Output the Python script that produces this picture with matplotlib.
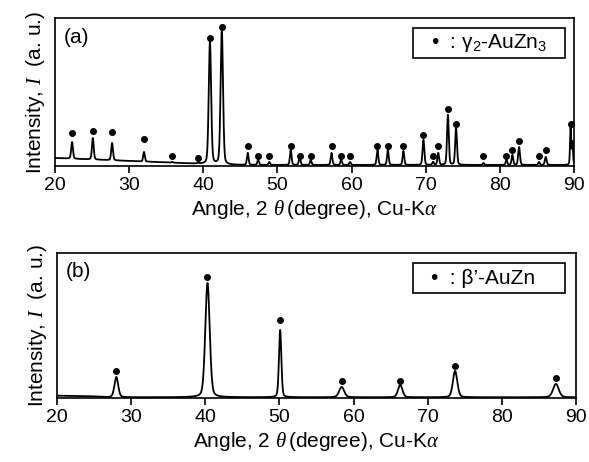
import numpy as np
import matplotlib
matplotlib.use("Agg")
import matplotlib.pyplot as plt
from matplotlib.patches import Rectangle

plt.rcParams['font.family'] = ['Liberation Sans', 'DejaVu Sans']
plt.rcParams['mathtext.fontset'] = 'custom'
plt.rcParams['mathtext.it'] = 'Liberation Serif:italic'
plt.rcParams['mathtext.rm'] = 'Liberation Sans'

# ---- panel (a): gamma2-AuZn3 peaks (2theta, peak top, marker height) ----
a_pos = [22.3, 25.1, 27.7, 32.0, 35.8, 39.3, 40.9, 42.5, 46.0, 47.4, 48.9,
         51.8, 53.0, 54.5, 57.3, 58.6, 59.8, 63.5, 64.9, 67.0, 69.7, 71.0,
         71.7, 73.0, 74.1, 77.8, 80.9, 81.7, 82.6, 85.3, 86.2, 89.55, 89.8]
a_top = [0.162, 0.189, 0.155, 0.095, 0.027, 0.020, 0.838, 0.919, 0.088, 0.041,
         0.027, 0.108, 0.061, 0.041, 0.088, 0.041, 0.027, 0.108, 0.108, 0.101,
         0.176, 0.027, 0.088, 0.345, 0.257, 0.020, 0.041, 0.074, 0.128, 0.027,
         0.061, 0.257, 0.160]
a_dot = [0.223, 0.236, 0.230, 0.182, 0.068, 0.054, 0.865, 0.939, 0.135, 0.068,
         0.068, 0.135, 0.068, 0.068, 0.135, 0.068, 0.068, 0.135, 0.135, 0.135,
         0.209, 0.068, 0.135, 0.385, 0.284, 0.068, 0.068, 0.108, 0.169, 0.068,
         0.108, 0.284, None]
a_fwhm = [0.28, 0.28, 0.28, 0.25, 0.25, 0.25, 0.38, 0.38, 0.26, 0.25, 0.25,
          0.26, 0.25, 0.25, 0.26, 0.25, 0.25, 0.26, 0.26, 0.26, 0.28, 0.25,
          0.26, 0.28, 0.28, 0.25, 0.25, 0.26, 0.28, 0.25, 0.28, 0.18, 0.18]
a_bg_x = [20, 25, 30, 35, 40, 43, 90]
a_bg_y = [0.054, 0.044, 0.034, 0.024, 0.013, 0.007, 0.007]

# ---- panel (b): beta'-AuZn peaks ----
b_pos = [28.0, 40.3, 50.1, 58.4, 66.3, 73.7, 87.3]
b_top = [0.145, 0.793, 0.469, 0.076, 0.090, 0.186, 0.097]
b_dot = [0.186, 0.834, 0.538, 0.117, 0.117, 0.221, 0.138]
b_fwhm = [0.6, 0.7, 0.38, 0.8, 0.7, 0.7, 0.9]
b_bg_x = [20, 24, 26, 27, 90]
b_bg_y = [0.016, 0.013, 0.008, 0.005, 0.005]


def profile(x, pos, top, fwhm, bgx, bgy):
    bg = np.interp(x, bgx, bgy)
    y = bg.copy()
    for p, t, w in zip(pos, top, fwhm):
        amp = t - np.interp(p, bgx, bgy)
        g = np.exp(-4 * np.log(2) * ((x - p) / w) ** 2)
        l = 1 / (1 + 4 * ((x - p) / w) ** 2)
        y += amp * (0.75 * g + 0.25 * l)
    return y


def style(ax):
    ax.set_xlim(20, 90)
    ax.set_ylim(0, 1)
    ax.set_yticks([])
    ax.set_xticks(range(20, 91, 10))
    ax.tick_params(axis='x', direction='out', length=5, width=1.2, labelsize=14, pad=3)
    for s in ax.spines.values():
        s.set_linewidth(1.2)
    ax.set_xlabel(r'Angle, 2 $\mathit{\theta}\,$(degree), Cu-K$\alpha$', fontsize=15, labelpad=3)
    ax.set_ylabel(r'Intensity, $\mathit{I}$  (a. u.)', fontsize=15, labelpad=6)


def legend_box(ax, x0, y0, x1, y1, label):
    ax.add_patch(Rectangle((x0, y0), x1 - x0, y1 - y0, transform=ax.transAxes,
                           facecolor='white', edgecolor='black', lw=1.2, zorder=5))
    ax.text(x0 + 0.035, (y0 + y1) / 2, label, transform=ax.transAxes,
            fontsize=15, va='center', ha='left', zorder=6)


x = np.linspace(20, 90, 7001)

fig = plt.figure(figsize=(5.89, 4.62), dpi=100)
ax1 = fig.add_axes([0.0934, 0.6407, 0.881, 0.3203])
ax2 = fig.add_axes([0.0968, 0.1385, 0.881, 0.3139])

ax1.plot(x, profile(x, a_pos, a_top, a_fwhm, a_bg_x, a_bg_y), color='black', lw=1.3)
ax1.plot([p for p, d in zip(a_pos, a_dot) if d is not None],
         [d for d in a_dot if d is not None], 'o', color='black', ms=4)
style(ax1)
ax1.text(0.017, 0.935, '(a)', transform=ax1.transAxes, fontsize=15, va='top')
legend_box(ax1, 0.690, 0.730, 0.983, 0.932, '•  : γ$_2$-AuZn$_3$')

ax2.plot(x, profile(x, b_pos, b_top, b_fwhm, b_bg_x, b_bg_y), color='black', lw=1.3)
ax2.plot(b_pos, b_dot, 'o', color='black', ms=4)
style(ax2)
ax2.text(0.017, 0.935, '(b)', transform=ax2.transAxes, fontsize=15, va='top')
legend_box(ax2, 0.686, 0.724, 0.979, 0.931, '•  : β’-AuZn')

fig.savefig('out.png', dpi=100)
